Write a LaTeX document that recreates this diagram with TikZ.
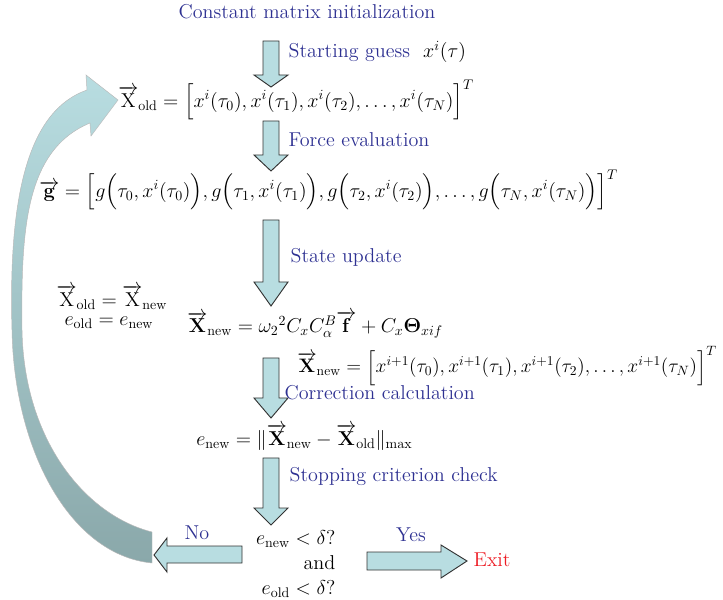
\documentclass[tikz,border=0pt]{standalone}
\usepackage{amsmath,amssymb}
\usepackage{xcolor}
\usepackage{tikz}
\usetikzlibrary{positioning}

\definecolor{navy}{RGB}{46,49,146}
\definecolor{arrfill}{RGB}{184,221,225}
\definecolor{loopbot}{RGB}{138,168,170}
\definecolor{exitred}{RGB}{237,28,36}

\newcommand{\vX}{\overrightarrow{\mathrm{X}}}
\newcommand{\vXb}{\overrightarrow{\mathbf{X}}}

% downward block arrow: centre x, top, head base, tip
\newcommand{\downblk}[4]{%
  \draw[blk] ({#1-8},#2) -- ({#1+8},#2) -- ({#1+8},#3) -- ({#1+17},#3)
    -- (#1,#4) -- ({#1-17},#3) -- ({#1-8},#3) -- cycle;}

\begin{document}
\begin{tikzpicture}[x=0.03cm, y=-0.03cm,
  every node/.style={font=\Large, scale=1.19, inner sep=1pt},
  lbl/.style   ={text=navy, anchor=west},
  eq/.style    ={anchor=west, inner sep=0pt},
  blk/.style   ={draw=black!80, fill=arrfill, line width=0.8pt, line join=miter},
  loopar/.style={draw=gray!55, line width=0.4pt, top color=arrfill,
                 middle color=arrfill!85!loopbot, bottom color=loopbot},
]
\useasboundingbox (0,0) rectangle (723,600);

%% --- Initialisation and first state ---------------------------------------
\node[text=navy] (init) at (307,12) {Constant matrix initialization};
\downblk{271}{41}{75}{87}
\node[lbl] (guess) at (287,52) {Starting guess\ \ \textcolor{black}{$x^i(\tau)$}};
\node[eq] (xold) at (118,100)
  {$\vX_{\mathrm{old}} = \Big[x^i(\tau_0), x^i(\tau_1), x^i(\tau_2), \ldots, x^i(\tau_N)\Big]^T$};

%% --- Force evaluation --------------------------------------------------------
\downblk{271}{121}{155}{171}
\node[lbl] (force) at (287,140) {Force evaluation};
\node[eq] (gvec) at (39,190)
  {$\overrightarrow{\mathbf{g}} = \Big[g\Big(\tau_0, x^i(\tau_0)\Big), g\Big(\tau_1, x^i(\tau_1)\Big), g\Big(\tau_2, x^i(\tau_2)\Big), \ldots, g\Big(\tau_N, x^i(\tau_N)\Big)\Big]^T$};

%% --- State update ------------------------------------------------------------
\downblk{271}{220}{282}{306}
\node[lbl] (update) at (289,257) {State update};
\node (swapx) at (112,297) {$\vX_{\mathrm{old}} = \vX_{\mathrm{new}}$};
\node (swape) at (109,323) {$e_{\mathrm{old}} = e_{\mathrm{new}}$};
\node[eq] (xupd) at (187,325)
  {$\vXb_{\mathrm{new}} = {\omega_2}^2 C_x C_\alpha^B \overrightarrow{\mathbf{f}} + C_x \mathbf{\Theta}_{xif}$};
\node[eq, scale=0.97] (xnew) at (297,366)
  {$\vXb_{\mathrm{new}} = \Big[x^{i+1}(\tau_0), x^{i+1}(\tau_1), x^{i+1}(\tau_2), \ldots, x^{i+1}(\tau_N)\Big]^T$};

%% --- Correction and stopping check ------------------------------------------
\downblk{271}{358}{398}{418}
\node[lbl] (corr) at (283,393) {Correction calculation};
\node[eq] (err) at (196,437)
  {$e_{\mathrm{new}} = \|\vXb_{\mathrm{new}} - \vXb_{\mathrm{old}}\|_{\max}$};
\downblk{271}{458}{508}{525}
\node[lbl] (stop) at (288,476) {Stopping criterion check};
\node[align=right, anchor=east] (check) at (337,564)
  {$e_{\mathrm{new}} < \delta?$\\ and\\ $e_{\mathrm{old}} < \delta?$};

%% --- Branches ----------------------------------------------------------------
\draw[blk] (242,546) -- (167,546) -- (167,538) -- (154,555) -- (167,572)
  -- (167,563) -- (242,563) -- cycle;
\node[text=navy] (no) at (197,533) {No};
\draw[blk] (367,552) -- (441,552) -- (441,545) -- (467,561) -- (441,578)
  -- (441,570) -- (367,570) -- cycle;
\node[text=navy] (yes) at (411,535) {Yes};
\node[text=exitred, anchor=west] (exit) at (472,560) {Exit};

%% --- Loop back to X_old ------------------------------------------------------
\path[loopar] (152,532) .. controls (85,515) and (24,440) .. (22,330)
  .. controls (21,230) and (25,150) .. (90,123) -- (91,136) -- (118,100)
  -- (86,75) -- (87,90) .. controls (30,110) and (8,190) .. (12,330)
  .. controls (14,450) and (70,555) .. (152,563) -- cycle;

\end{tikzpicture}
\end{document}
